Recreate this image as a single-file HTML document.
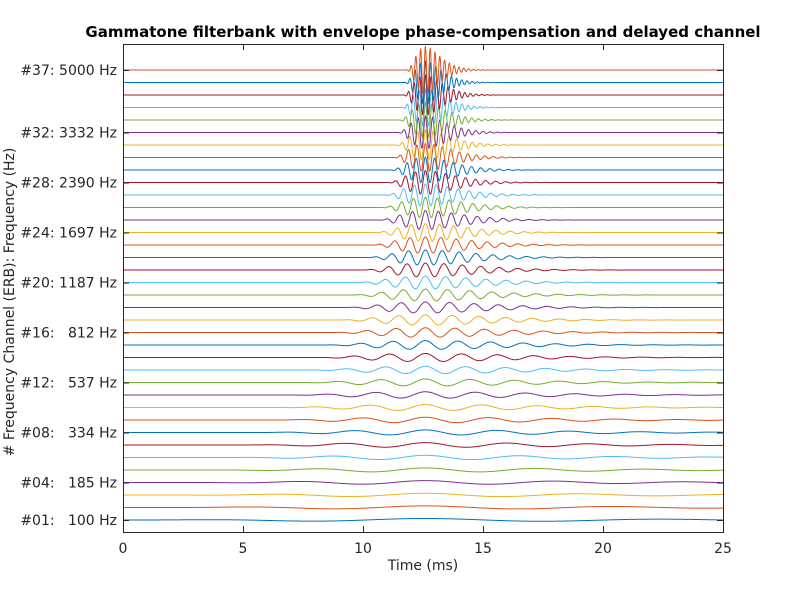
<!DOCTYPE html>
<html><head><meta charset="utf-8"><style>
html,body{margin:0;padding:0;background:#fff;}
svg{display:block;font-family:"DejaVu Sans","Liberation Sans",sans-serif;}
</style></head><body>
<svg id="s" width="800" height="600" xmlns="http://www.w3.org/2000/svg">
<rect width="800" height="600" fill="#fff"/>
<g id="traces"></g>
<rect x="123.5" y="44.5" width="600" height="488" fill="none" stroke="#262626" stroke-width="1"/>
<g id="ticks" stroke="#262626" stroke-width="1"></g>
<g font-size="14" fill="#262626" text-anchor="middle">
<text x="123" y="553">0</text><text x="243" y="553">5</text><text x="363" y="553">10</text>
<text x="483" y="553">15</text><text x="603" y="553">20</text><text x="723" y="553">25</text>
<text x="423" y="570">Time (ms)</text>
</g>
<g id="ylab" font-size="14" fill="#262626" text-anchor="end" style="white-space:pre"></g>
<text transform="translate(14,302) rotate(-90)" font-size="14" fill="#262626" text-anchor="middle"># Frequency Channel (ERB): Frequency (Hz)</text>
<text x="423" y="37" font-size="15" font-weight="bold" fill="#000" text-anchor="middle">Gammatone filterbank with envelope phase-compensation and delayed channel</text>
</svg>
<script>
(function(){
var cols=["#0072BD","#D95319","#EDB120","#7E2F8E","#77AC30","#4DBEEE","#A2142F"];
function erb(f){return 24.7+0.108*f;}
function fe(f){return 21.4*Math.log10(1+0.00437*f);}
function ife(e){return (Math.pow(10,e/21.4)-1)/0.00437;}
var e1=fe(100),e2=fe(5000),N=37;
var g=document.getElementById('traces'),out='';
var tpk=12.6;
for(var k=1;k<=N;k++){
 var fc=ife(e1+(e2-e1)*(k-1)/(N-1));
 var y0=520-(k-1)*12.5;
 var b=2*Math.PI*1.019*erb(fc)/1000;
 var tp=3/b, t0=tpk-tp;
 var A=1.5*erb(fc)/35.5;
 var d='';
 for(var i=0;i<=1250;i++){
  var t=i*0.02, tau=t-t0, v=0;
  if(tau>0){var env=Math.pow(tau/tp,3)*Math.exp(-b*(tau-tp));
   v=A*env*Math.cos(2*Math.PI*fc/1000*(t-tpk));}
  var x=123+t*24, y=y0-v;
  d+=(i?'L':'M')+x.toFixed(2)+' '+y.toFixed(2);
 }
 out+='<path d="'+d+'" fill="none" stroke="'+cols[(k-1)%7]+'" stroke-width="1"/>';
}
g.innerHTML=out;
var t='';
for(var j=0;j<=5;j++){var x=123.5+j*120;t+='<line x1="'+x+'" y1="532" x2="'+x+'" y2="526"/><line x1="'+x+'" y1="44" x2="'+x+'" y2="50"/>';}
var labs=[[1,"#01:   100 Hz"],[4,"#04:   185 Hz"],[8,"#08:   334 Hz"],[12,"#12:   537 Hz"],[16,"#16:   812 Hz"],[20,"#20: 1187 Hz"],[24,"#24: 1697 Hz"],[28,"#28: 2390 Hz"],[32,"#32: 3332 Hz"],[37,"#37: 5000 Hz"]];
var yl='';
labs.forEach(function(l){var y=520-(l[0]-1)*12.5;t+='<line x1="123" y1="'+(y+0.5)+'" x2="129" y2="'+(y+0.5)+'"/><line x1="723" y1="'+(y+0.5)+'" x2="717" y2="'+(y+0.5)+'"/>';
 yl+='<text x="117" y="'+(y+5)+'" xml:space="preserve">'+l[1]+'</text>';});
document.getElementById('ticks').innerHTML=t;
document.getElementById('ylab').innerHTML=yl;
})();
</script>
</body></html>
